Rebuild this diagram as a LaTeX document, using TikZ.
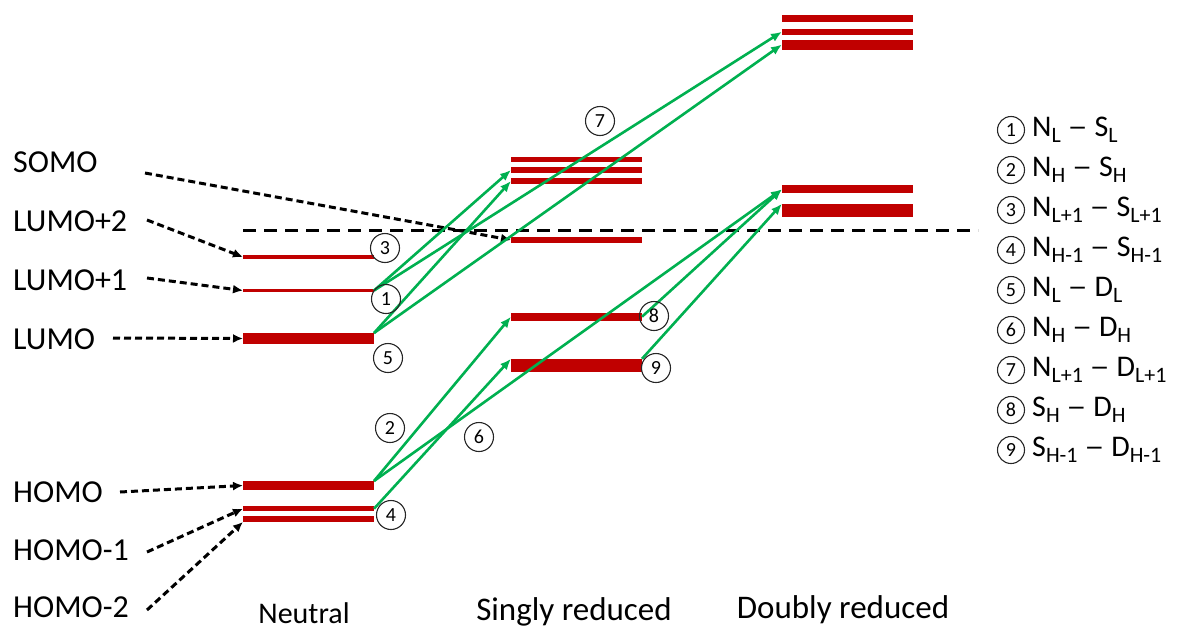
\documentclass[tikz,border=0pt]{standalone}
\usepackage{fontspec}
\usepackage{graphicx}
\setmainfont{Carlito}
\usetikzlibrary{arrows.meta}
\definecolor{lvred}{HTML}{C00000}
\definecolor{trgreen}{HTML}{00B050}
\newcommand{\lsub}[1]{\raisebox{-6pt}{\fontsize{22}{22}\selectfont #1}}
\newcommand{\ldash}{\ \scalebox{1.35}[1]{--}\ }
\begin{document}
\begin{tikzpicture}[x=1pt,y=-1pt,
  lvl/.style={fill=lvred, draw=none, inner sep=0pt, outer sep=0pt, minimum width=131pt, anchor=west},
  lab/.style={inner sep=0pt, anchor=west, font=\fontsize{32}{38}\selectfont},
  state/.style={inner sep=0pt, font=\fontsize{33}{38}\selectfont},
  legtxt/.style={inner sep=0pt, anchor=west, font=\fontsize{30}{34}\selectfont},
  cnum/.style={circle, draw=black!85, line width=1.1pt, inner sep=0pt, minimum size=29pt, font=\fontsize{20}{22}\selectfont},
  lnum/.style={cnum, minimum size=27pt},
  darrow/.style={draw=black, line width=3pt, dash pattern=on 7pt off 4pt, -{Latex[length=10pt,width=9pt]}},
  garrow/.style={draw=trgreen, line width=2.6pt, -{Latex[length=11pt,width=9pt]}},
  hdash/.style={draw=black, line width=3pt, dash pattern=on 13pt off 8pt}
]
\useasboundingbox (0,0) rectangle (1177,632);

% neutral levels
\node[lvl, minimum height=3.5pt] (n2) at (243,257) {};
\node[lvl, minimum height=3.5pt] (n1) at (243,290.5) {};
\node[lvl, minimum height=11pt] (nL) at (243,338.5) {};
\node[lvl, minimum height=9pt] (nH) at (243,485.5) {};
\node[lvl, minimum height=4.5pt] (nH1) at (243,508.7) {};
\node[lvl, minimum height=6pt] (nH2) at (243,519) {};

% singly reduced
\node[lvl, minimum height=5pt] (sa) at (511,159.7) {};
\node[lvl, minimum height=6pt] (sb) at (511,170) {};
\node[lvl, minimum height=6pt] (sc) at (511,181) {};
\node[lvl, minimum height=6pt] (sS) at (511,240) {};
\node[lvl, minimum height=8pt] (sH) at (511,316.7) {};
\node[lvl, minimum height=13pt] (sH1) at (511,365.3) {};

% doubly reduced
\node[lvl, minimum height=7pt] (da) at (782,18.5) {};
\node[lvl, minimum height=6pt] (db) at (782,31.7) {};
\node[lvl, minimum height=10pt] (dc) at (782,44.5) {};
\node[lvl, minimum height=8pt] (dd) at (782,189.3) {};
\node[lvl, minimum height=13.5pt] (de) at (782,210.5) {};

% horizontal dashed line
\coordinate (hl) at (243,230);
\coordinate (hr) at (978,230);
\draw[hdash] (hl) -- (hr);

% left labels
\node[lab] (somo) at (13,162) {SOMO};
\node[lab] (lumo2) at (13,221) {LUMO+2};
\node[lab] (lumo1) at (13,280) {LUMO+1};
\node[lab] (lumo) at (13,339) {LUMO};
\node[lab] (homo) at (13,492) {HOMO};
\node[lab] (homo1) at (13,550) {HOMO-1};
\node[lab] (homo2) at (13,607) {HOMO-2};

\coordinate (somoA) at (145,173);
\coordinate (lumo2A) at (147,220);
\coordinate (lumo1A) at (147,278);
\coordinate (lumoA) at (113,338);
\coordinate (homoA) at (120,492);
\coordinate (homo1A) at (147,552);
\coordinate (homo2A) at (147,610);

\draw[darrow] (somoA) -- (sS.west);
\draw[darrow] (lumo2A) -- (n2.west);
\draw[darrow] (lumo1A) -- (n1.west);
\draw[darrow] (lumoA) -- (nL.west);
\draw[darrow] (homoA) -- (nH.west);
\draw[darrow] (homo1A) -- (nH1.west);
\draw[darrow] (homo2A) -- (nH2.south west);

% green transitions
\draw[garrow] (n1.east) -- (sb.west);
\draw[garrow] (n1.east) -- (db.west);
\draw[garrow] (nL.north east) -- (sc.west);
\draw[garrow] (nL.north east) -- (dc.west);
\draw[garrow] (nH.north east) -- (sH.west);
\draw[garrow] (nH.north east) -- (dd.west);
\draw[garrow] (nH1.east) -- (sH1.north west);
\draw[garrow] (sH.east) -- (dd.west);
\draw[garrow] (sH1.north east) -- (de.north west);

% circled numbers
\node[cnum] (c3) at (385,248) {3};
\node[cnum] (c1) at (386,299) {1};
\node[cnum] (c5) at (388,358) {5};
\node[cnum] (c2) at (390,428) {2};
\node[cnum] (c6) at (479,437) {6};
\node[cnum] (c4) at (391,515) {4};
\node[cnum] (c7) at (600,121) {7};
\node[cnum] (c8) at (654,316) {8};
\node[cnum] (c9) at (656,368) {9};

% bottom labels
\node[state, font=\fontsize{30}{36}\selectfont] (neutral) at (304,613) {Neutral};
\node[state] (singly) at (574,612) {Singly reduced};
\node[state] (doubly) at (843,610) {Doubly reduced};

% legend
\node[lnum] (l1) at (1011,130) {1};
\node[legtxt] (t1) at (1032,130) {N\lsub{L}\ldash S\lsub{L}};
\node[lnum] (l2) at (1011,170) {2};
\node[legtxt] (t2) at (1032,170) {N\lsub{H}\ldash S\lsub{H}};
\node[lnum] (l3) at (1011,210) {3};
\node[legtxt] (t3) at (1032,210) {N\lsub{L+1}\ldash S\lsub{L+1}};
\node[lnum] (l4) at (1011,250) {4};
\node[legtxt] (t4) at (1032,250) {N\lsub{H-1}\ldash S\lsub{H-1}};
\node[lnum] (l5) at (1011,290) {5};
\node[legtxt] (t5) at (1032,290) {N\lsub{L}\ldash D\lsub{L}};
\node[lnum] (l6) at (1011,330) {6};
\node[legtxt] (t6) at (1032,330) {N\lsub{H}\ldash D\lsub{H}};
\node[lnum] (l7) at (1011,370) {7};
\node[legtxt] (t7) at (1032,370) {N\lsub{L+1}\ldash D\lsub{L+1}};
\node[lnum] (l8) at (1011,410) {8};
\node[legtxt] (t8) at (1032,410) {S\lsub{H}\ldash D\lsub{H}};
\node[lnum] (l9) at (1011,450) {9};
\node[legtxt] (t9) at (1032,450) {S\lsub{H-1}\ldash D\lsub{H-1}};
\end{tikzpicture}
\end{document}
